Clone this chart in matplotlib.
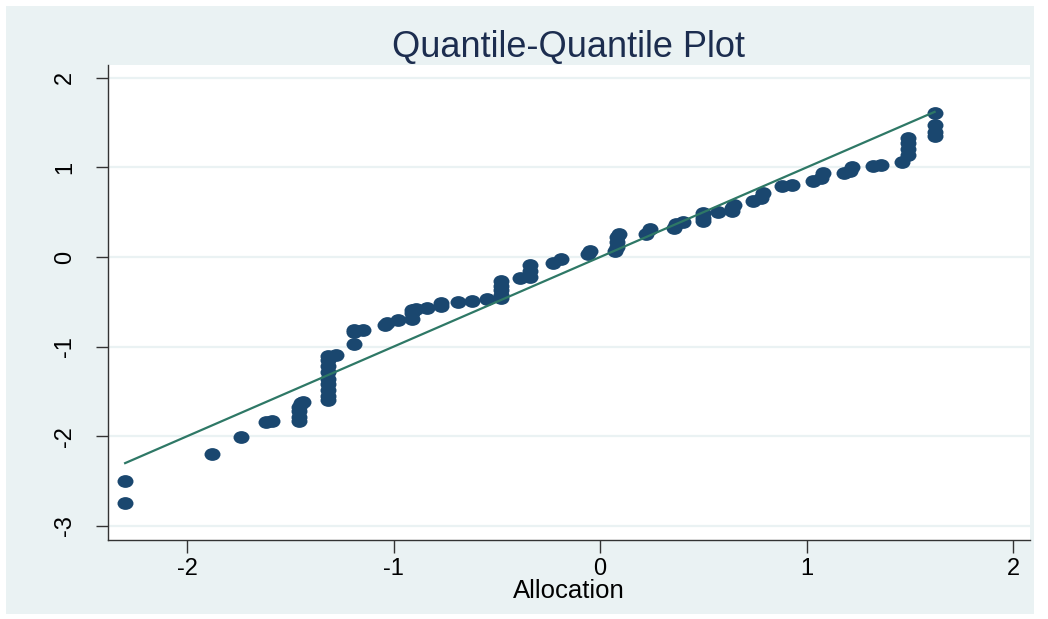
import matplotlib
matplotlib.use('Agg')
import matplotlib.pyplot as plt
from matplotlib.path import Path
from matplotlib.patches import Rectangle
import numpy as np

# sorted quantile pairs (allocation quantile, variable quantile)
alloc_q = [-2.30, -2.30, -1.88, -1.74, -1.62, -1.59,
           -1.46, -1.46, -1.46, -1.46, -1.45, -1.44,
           -1.32, -1.32, -1.32, -1.32, -1.32, -1.32, -1.32, -1.32, -1.32, -1.28,
           -1.19, -1.19, -1.19, -1.15, -1.04, -1.03, -0.98,
           -0.91, -0.91, -0.91, -0.89, -0.84, -0.77, -0.77, -0.69, -0.62, -0.55,
           -0.48, -0.48, -0.48, -0.48, -0.48, -0.39, -0.34, -0.34, -0.34,
           -0.23, -0.19, -0.06, -0.05, 0.07, 0.08, 0.08, 0.08, 0.09,
           0.22, 0.24, 0.36, 0.37, 0.40, 0.50, 0.50, 0.50, 0.57,
           0.64, 0.64, 0.65, 0.74, 0.78, 0.79, 0.88, 0.93, 1.03, 1.07, 1.08,
           1.18, 1.21, 1.22, 1.32, 1.36, 1.46, 1.49, 1.49, 1.49, 1.49,
           1.62, 1.62, 1.62, 1.62]
value_q = [-2.75, -2.50, -2.20, -2.01, -1.84, -1.83,
           -1.83, -1.78, -1.72, -1.67, -1.63, -1.62,
           -1.60, -1.55, -1.48, -1.42, -1.36, -1.28, -1.22, -1.15, -1.10, -1.09,
           -0.97, -0.84, -0.81, -0.81, -0.76, -0.74, -0.70,
           -0.69, -0.63, -0.59, -0.58, -0.57, -0.55, -0.51, -0.50, -0.49, -0.47,
           -0.46, -0.42, -0.37, -0.32, -0.27, -0.23, -0.22, -0.16, -0.09,
           -0.07, -0.02, 0.03, 0.07, 0.07, 0.11, 0.17, 0.22, 0.26,
           0.26, 0.31, 0.32, 0.37, 0.39, 0.40, 0.44, 0.49, 0.50,
           0.51, 0.55, 0.58, 0.63, 0.66, 0.72, 0.79, 0.80, 0.85, 0.88, 0.94,
           0.94, 0.96, 1.00, 1.02, 1.03, 1.06, 1.14, 1.20, 1.27, 1.33,
           1.35, 1.40, 1.47, 1.61]

x_ticks = [-2, -1, 0, 1, 2]
y_ticks = [-3, -2, -1, 0, 1, 2]

navy = '#1a476f'
teal = '#2e7866'
bg = '#eaf2f3'

plt.rcParams['font.family'] = ['Liberation Sans', 'DejaVu Sans']

fig = plt.figure(figsize=(10.48, 6.19), dpi=100)
fig.patch.set_facecolor('white')
# light outer panel behind the plot region
fig.patches.append(Rectangle((6 / 1048, 1 - 614 / 619), 1028 / 1048, 608 / 619,
                             transform=fig.transFigure, facecolor=bg,
                             edgecolor='none', zorder=-5))

ax = fig.add_axes([108 / 1048, 1 - 540 / 619, 922 / 1048, 475 / 619])
ax.set_facecolor('white')

# slightly wide oval marker
circ = Path.unit_circle()
oval = Path(circ.vertices * np.array([1.25, 1.0]), circ.codes)

ax.plot(alloc_q, value_q, linestyle='none', marker=oval, markersize=11.5,
        color=navy, markeredgewidth=0, zorder=3)

lo, hi = min(alloc_q), max(alloc_q)
ax.plot([lo, hi], [lo, hi], color=teal, linewidth=1.6, zorder=4)

ax.set_xlim(-2.383, 2.082)
ax.set_ylim(-3.158, 2.143)
ax.set_xticks(x_ticks)
ax.set_yticks(y_ticks)
ax.set_xticklabels([str(t) for t in x_ticks], fontsize=17)
ax.set_yticklabels([str(t) for t in y_ticks], fontsize=17, rotation=90, va='center')
ax.tick_params(axis='both', direction='out', length=9, width=1, color='#333333')
ax.tick_params(axis='y', pad=14)
ax.tick_params(axis='x', pad=4)
ax.yaxis.grid(True, color=bg, linewidth=1.6)
ax.set_axisbelow(True)

for side in ['top', 'right']:
    ax.spines[side].set_visible(False)
for side in ['left', 'bottom']:
    ax.spines[side].set_color('#333333')
    ax.spines[side].set_linewidth(1)

ax.set_xlabel('Allocation', fontsize=18.5, labelpad=-1)
ax.set_title('Quantile-Quantile Plot', fontsize=26, color='#1c2d4f', pad=6)

plt.savefig('out.png', dpi=100, facecolor=fig.get_facecolor())
plt.close()
